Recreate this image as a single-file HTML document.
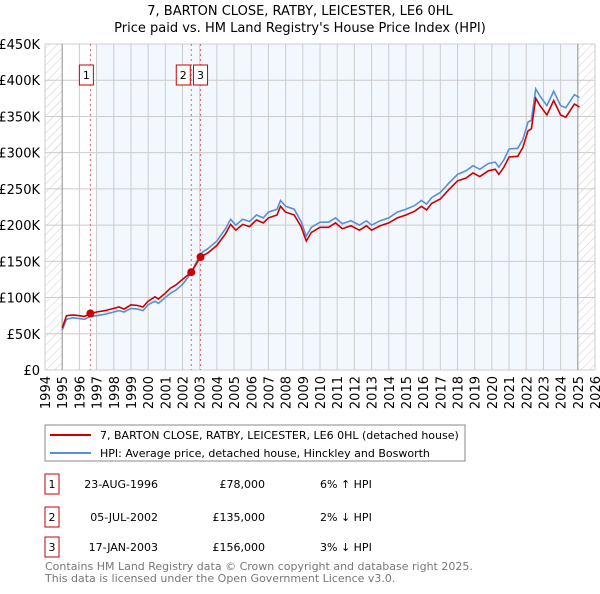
<!DOCTYPE html>
<html><head><meta charset="utf-8"><style>
body{margin:0;background:#fff;font-family:"DejaVu Sans","Liberation Sans",sans-serif;}
svg text{font-family:"DejaVu Sans","Liberation Sans",sans-serif;}
</style></head><body>
<svg id="c" width="600" height="590" xmlns="http://www.w3.org/2000/svg">
<defs><pattern id="hatch" width="6" height="6" patternUnits="userSpaceOnUse" patternTransform="rotate(45)"><line x1="0" y1="0" x2="0" y2="6" stroke="#ccc" stroke-width="1"/></pattern></defs>
<text x="300" y="15" text-anchor="middle" font-size="13">7, BARTON CLOSE, RATBY, LEICESTER, LE6 0HL</text>
<text x="300" y="32" text-anchor="middle" font-size="13">Price paid vs. HM Land Registry's House Price Index (HPI)</text>
<g id="plot"></g>
<g>
<rect x="45" y="425" width="420" height="36" fill="#fff" stroke="#888"/>
<line x1="50" y1="435" x2="91" y2="435" stroke="#cc0000" stroke-width="2"/>
<text x="100" y="439" font-size="11">7, BARTON CLOSE, RATBY, LEICESTER, LE6 0HL (detached house)</text>
<line x1="50" y1="453" x2="91" y2="453" stroke="#5b8fd4" stroke-width="2"/>
<text x="100" y="457" font-size="11">HPI: Average price, detached house, Hinckley and Bosworth</text>
</g>
<g font-size="11">
<rect x="45" y="474" width="14" height="20" fill="#fff" stroke="#cc0000"/><text x="52" y="488" text-anchor="middle">1</text>
<text x="158" y="488" text-anchor="end">23-AUG-1996</text><text x="265" y="488" text-anchor="end">£78,000</text><text x="320" y="488">6% ↑ HPI</text>
<rect x="45" y="507" width="14" height="20" fill="#fff" stroke="#cc0000"/><text x="52" y="521" text-anchor="middle">2</text>
<text x="158" y="521" text-anchor="end">05-JUL-2002</text><text x="265" y="521" text-anchor="end">£135,000</text><text x="320" y="521">2% ↓ HPI</text>
<rect x="45" y="537" width="14" height="20" fill="#fff" stroke="#cc0000"/><text x="52" y="551" text-anchor="middle">3</text>
<text x="158" y="551" text-anchor="end">17-JAN-2003</text><text x="265" y="551" text-anchor="end">£156,000</text><text x="320" y="551">3% ↓ HPI</text>
</g>
<text x="45" y="570" font-size="11" fill="#777">Contains HM Land Registry data © Crown copyright and database right 2025.</text>
<text x="45" y="582" font-size="11" fill="#777">This data is licensed under the Open Government Licence v3.0.</text>
</svg>
<script>
const dates=[1995.0,1995.25,1995.6,1996.0,1996.3,1996.65,1997.0,1997.5,1998.0,1998.3,1998.6,1999.0,1999.4,1999.7,2000.0,2000.4,2000.6,2001.0,2001.3,2001.6,2002.0,2002.51,2003.05,2003.5,2004.0,2004.5,2004.8,2005.1,2005.5,2005.9,2006.3,2006.7,2007.0,2007.5,2007.7,2008.0,2008.5,2008.9,2009.2,2009.5,2010.0,2010.5,2010.9,2011.3,2011.8,2012.3,2012.7,2013.0,2013.5,2014.0,2014.5,2015.0,2015.5,2015.9,2016.2,2016.5,2017.0,2017.5,2018.0,2018.5,2018.9,2019.3,2019.8,2020.2,2020.4,2020.7,2021.0,2021.5,2021.8,2022.1,2022.3,2022.55,2022.8,2023.2,2023.6,2024.0,2024.3,2024.8,2025.1];
const hpi=[55,70,72,71,70,74,75,77,80,82,80,85,84,82,90,95,92,100,106,110,118,134,161,168,178,195,208,200,208,205,214,210,218,222,234,226,222,205,185,197,204,204,210,202,206,200,206,200,206,210,218,222,227,234,229,238,245,258,270,275,282,277,285,287,280,290,305,306,318,342,345,388,378,365,385,365,362,380,376];
const price=[58,75,76,75,74,78,80,82,85,87,84,90,89,87,95,101,98,106,113,117,125,135,156,162,172,188,201,193,201,198,207,203,210,214,226,218,214,198,178,190,197,197,203,195,199,193,199,193,199,203,210,214,219,226,221,230,236,249,261,265,272,267,275,277,270,280,294,295,307,330,333,375,365,352,372,352,349,367,363];
const saleDates=[1996.64,2002.51,2003.05];
const salePrices=[78,135,156];
const saleLabels=["1","2","3"];
const yTicks=[0,50,100,150,200,250,300,350,400,450];
const yTickLabels=["£0","£50K","£100K","£150K","£200K","£250K","£300K","£350K","£400K","£450K"];
const xYears=[1994,1995,1996,1997,1998,1999,2000,2001,2002,2003,2004,2005,2006,2007,2008,2009,2010,2011,2012,2013,2014,2015,2016,2017,2018,2019,2020,2021,2022,2023,2024,2025,2026];

const NS="http://www.w3.org/2000/svg";
const L=45,R=595,T=44,B=370;
const x=y=>L+(y-1994)/(2026-1994)*(R-L);
const yv=v=>B-v/450*(B-T);
const g=document.getElementById('plot');
function mk(tag,attrs,parent){const e=document.createElementNS(NS,tag);for(const k in attrs)e.setAttribute(k,attrs[k]);(parent||g).appendChild(e);return e;}
let e;
e=mk('rect',{x:L,y:T,width:R-L,height:B-T,fill:'#fff'});


e=mk('rect',{x:x(1997),y:T,width:x(2025)-x(1997),height:B-T,fill:'#f3f7fe'});


e=mk('rect',{x:L,y:T,width:x(1995)-L,height:B-T,fill:'url(#hatch)'});


e=mk('rect',{x:x(2025),y:T,width:R-x(2025),height:B-T,fill:'url(#hatch)'});


yTicks.forEach((v,i)=>{
  e=mk('line',{x1:L,x2:R,y1:yv(v),y2:yv(v),stroke:'#ccc','stroke-width':1});
  
  
  e=mk('text',{x:L-5,y:yv(v)+5,'text-anchor':'end','font-size':13});
  e.textContent=yTickLabels[i];
  
  
});
xYears.forEach(yr=>{
  e=mk('line',{x1:x(yr),x2:x(yr),y1:T,y2:B,stroke:'#ccc','stroke-width':1});
  
  
  e=mk('text',{x:0,y:0,'text-anchor':'end','font-size':13,transform:`translate(${x(yr)+5},${376}) rotate(-90)`});
  e.textContent=yr;
  
  
});
[1995,2025].forEach(yr=>{
  e=mk('line',{x1:x(yr),x2:x(yr),y1:T,y2:B,stroke:'#999','stroke-width':1});
  
  
});
saleDates.forEach((d,i)=>{
  e=mk('line',{x1:x(d),x2:x(d),y1:T,y2:B,stroke:'#e06666','stroke-width':1,'stroke-dasharray':'2,3'});
  
  
});
const pts=a=>a.map((v,i)=>x(dates[i]).toFixed(1)+','+yv(v).toFixed(1)).join(' ');
e=mk('polyline',{points:pts(hpi),fill:'none',stroke:'#5b8fd4','stroke-width':1.6});


e=mk('polyline',{points:pts(price),fill:'none',stroke:'#cc0000','stroke-width':1.6});


saleDates.forEach((d,i)=>{
  e=mk('circle',{cx:x(d),cy:yv(salePrices[i]),r:4,fill:'#cc0000'});
  
  
});
const lx=[x(saleDates[0])-4,x(saleDates[1])-8,x(saleDates[2])];
saleLabels.forEach((s,i)=>{
  e=mk('rect',{x:lx[i]-7,y:65,width:14,height:20,fill:'#fff',stroke:'#cc0000'});
  
  
  e=mk('text',{x:lx[i],y:79,'text-anchor':'middle','font-size':11});
  e.textContent=s;
  
  
});
</script>
</body></html>
